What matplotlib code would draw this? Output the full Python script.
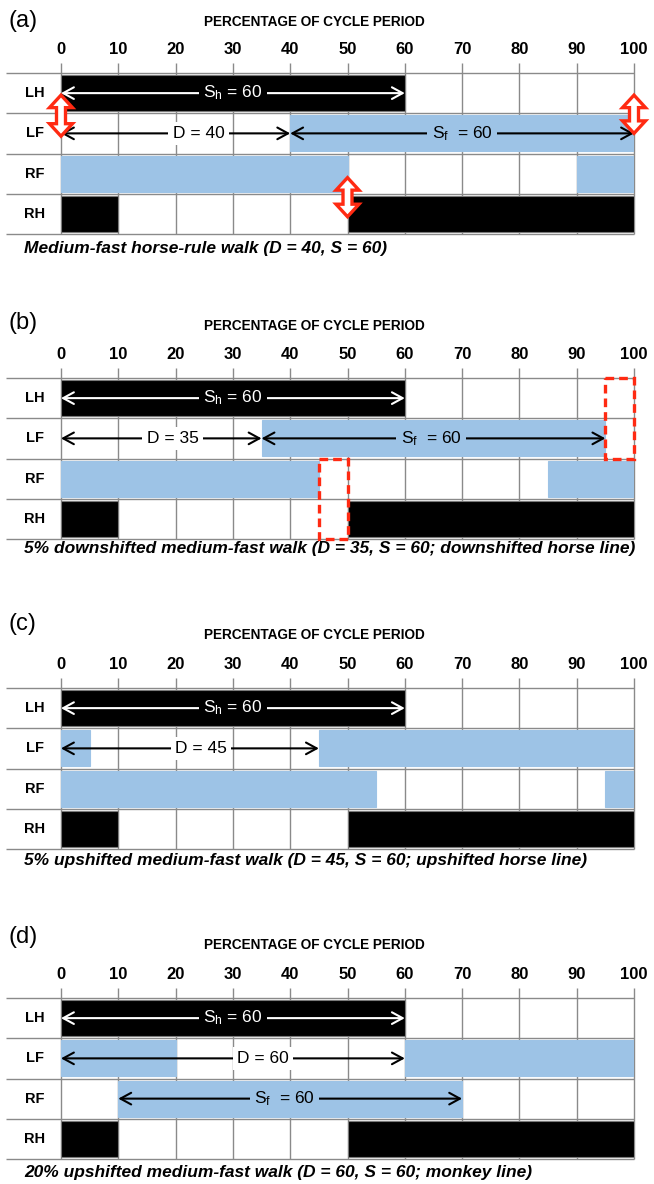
import matplotlib
matplotlib.use("Agg")
import matplotlib.pyplot as plt
from matplotlib.patches import Rectangle, Polygon

plt.rcParams['font.family'] = ['Liberation Sans', 'DejaVu Sans']
plt.rcParams['mathtext.fontset'] = 'custom'
plt.rcParams['mathtext.rm'] = 'Liberation Sans'
plt.rcParams['mathtext.it'] = 'Liberation Sans:italic'
plt.rcParams['mathtext.bf'] = 'Liberation Sans:bold'

# ---------------- data ----------------
LIMBS = ["LH", "LF", "RF", "RH"]
TICKS = [0, 10, 20, 30, 40, 50, 60, 70, 80, 90, 100]
AXIS_TITLE = "PERCENTAGE OF CYCLE PERIOD"
PANEL_LABELS = ["(a)", "(b)", "(c)", "(d)"]
CAPTIONS = [
    "Medium-fast horse-rule walk (D = 40, S = 60)",
    "5% downshifted medium-fast walk (D = 35, S = 60; downshifted horse line)",
    "5% upshifted medium-fast walk (D = 45, S = 60; upshifted horse line)",
    "20% upshifted medium-fast walk (D = 60, S = 60; monkey line)",
]

# stance intervals (start %, end %) per limb
A_LH = [(0, 60)]
A_LF = [(40, 100)]
A_RF = [(0, 50), (90, 100)]
A_RH = [(0, 10), (50, 100)]

B_LH = [(0, 60)]
B_LF = [(35, 95)]
B_RF = [(0, 45), (85, 100)]
B_RH = [(0, 10), (50, 100)]

C_LH = [(0, 60)]
C_LF = [(0, 5), (45, 100)]
C_RF = [(0, 55), (95, 100)]
C_RH = [(0, 10), (50, 100)]

D_LH = [(0, 60)]
D_LF = [(0, 20), (60, 100)]
D_RF = [(10, 70)]
D_RH = [(0, 10), (50, 100)]

SH = r"S$_\mathregular{h}$ = 60"
SF = r"S$_\mathregular{f}$  = 60"
# (row, start, end, label, label x, background)
A_ARROWS = [(0, 0, 60, SH, 30, "black"), (1, 0, 40, "D = 40", 24, "white"),
            (1, 40, 100, SF, 70, "blue")]
B_ARROWS = [(0, 0, 60, SH, 30, "black"), (1, 0, 35, "D = 35", 19.5, "white"),
            (1, 35, 95, SF, 64.6, "blue")]
C_ARROWS = [(0, 0, 60, SH, 30, "black"), (1, 0, 45, "D = 45", 24.4, "white")]
D_ARROWS = [(0, 0, 60, SH, 30, "black"), (1, 0, 60, "D = 60", 35.3, "white"),
            (2, 10, 70, SF, 39, "blue")]

# red hollow double arrows (x %, from row, to row) in panel (a)
A_SWITCH = [(0, 0.55, 1.57), (100, 0.55, 1.5), (50, 2.6, 3.57)]
# red dashed boxes (x0, x1, row0, row1) in panel (b)
B_DASHED = [(95, 100, 0, 2), (45, 50, 2, 4)]

PANELS = [
    ([A_LH, A_LF, A_RF, A_RH], A_ARROWS, A_SWITCH, []),
    ([B_LH, B_LF, B_RF, B_RH], B_ARROWS, [], B_DASHED),
    ([C_LH, C_LF, C_RF, C_RH], C_ARROWS, [], []),
    ([D_LH, D_LF, D_RF, D_RH], D_ARROWS, [], []),
]

# ---------------- style / layout ----------------
BLUE = "#9dc3e6"
RED = "#ff2a12"
GRID = "#8a8a8a"
LIMB_COLORS = ["black", BLUE, BLUE, "black"]
BG = {"black": "black", "white": "white", "blue": BLUE}
FG = {"black": "white", "white": "black", "blue": "black"}

FW, FH = 654, 1184
X_LEFT, X0, X100 = 6, 61, 634
TOPS = [73, 378, 688, 998]
TABLE_H = 161
LABEL_Y = [21, 323, 624, 937]
TITLE_Y = [22, 326, 635, 945]
CAPTION_Y = [249, 549, 861, 1172]

px_per_x = (X100 - X0) / 100.0
xmin = -(X0 - X_LEFT) / px_per_x
row_px = TABLE_H / 4.0

fig = plt.figure(figsize=(FW / 100, FH / 100), dpi=100)

for p, (rows, arrows, switches, dashed) in enumerate(PANELS):
    top = TOPS[p]
    ax = fig.add_axes([X_LEFT / FW, 1 - (top + TABLE_H) / FH,
                       (X100 - X_LEFT) / FW, TABLE_H / FH])
    ax.set_xlim(xmin, 100)
    ax.set_ylim(4, 0)
    for s in ax.spines.values():
        s.set_visible(False)
    ax.set_yticks([])
    ax.xaxis.tick_top()
    ax.set_xticks(TICKS)
    ax.set_xticklabels([str(t) for t in TICKS], fontsize=12, fontweight="bold")
    ax.tick_params(axis="x", length=0, pad=11.5)

    # grid
    ax.hlines(range(5), xmin, 100, color=GRID, lw=1.0, zorder=1, clip_on=False)
    ax.vlines(TICKS, -10 / row_px, 4, color=GRID, lw=1.0, zorder=1, clip_on=False)

    # limb labels
    for i, limb in enumerate(LIMBS):
        ax.text((35 - X0) / px_per_x, i + 0.5, limb, ha="center", va="center",
                fontsize=10.5, fontweight="bold", zorder=5)

    # stance bars
    for i, segs in enumerate(rows):
        col = LIMB_COLORS[i]
        ax.barh([i + 0.5] * len(segs), [e - s for s, e in segs],
                left=[s for s, e in segs], height=0.9, color=col,
                edgecolor=("#7a7a7a" if col == "black" else BLUE), lw=0.8,
                zorder=2)

    # annotation arrows
    for row, s, e, lab, lx, bg in arrows:
        ax.annotate("", xy=(e, row + 0.5), xytext=(s, row + 0.5),
                    arrowprops=dict(arrowstyle="<->,head_length=0.55,head_width=0.3",
                                    color=FG[bg], lw=1.5, shrinkA=0, shrinkB=0,
                                    mutation_scale=14),
                    zorder=3)
        ax.text(lx, row + 0.5, lab, ha="center", va="center", fontsize=12.5,
                color=FG[bg], zorder=4,
                bbox=dict(boxstyle="square,pad=0.25", fc=BG[bg], ec="none"))

    # red hollow double arrows
    W, w, h = 11.5, 4.5, 12.5
    for x, r0, r1 in switches:
        L = (r1 - r0) * row_px
        pts_px = [(0, 0), (W, h), (w, h), (w, L - h), (W, L - h), (0, L),
                  (-W, L - h), (-w, L - h), (-w, h), (-W, h)]
        pts = [(x + dx / px_per_x, r0 + dy / row_px) for dx, dy in pts_px]
        ax.add_patch(Polygon(pts, closed=True, fc="white", ec=RED, lw=2.4,
                             zorder=6, clip_on=False, joinstyle="miter"))

    # red dashed boxes
    for x0, x1, r0, r1 in dashed:
        ax.add_patch(Rectangle((x0, r0), x1 - x0, r1 - r0, fill=False, ec=RED,
                               lw=2.4, ls=(0, (2.6, 1.5)), zorder=6,
                               clip_on=False))

    # axis title
    ax.text(44.3, -(top - TITLE_Y[p]) / row_px, AXIS_TITLE, ha="center",
            va="center", fontsize=9.8, fontweight="bold")

    fig.text(9 / FW, 1 - LABEL_Y[p] / FH, PANEL_LABELS[p], ha="left",
             va="center", fontsize=17)
    fig.text(24 / FW, 1 - CAPTION_Y[p] / FH, CAPTIONS[p], ha="left",
             va="center", fontsize=12.5, fontweight="bold", fontstyle="italic")

fig.savefig("out.png", dpi=100)
